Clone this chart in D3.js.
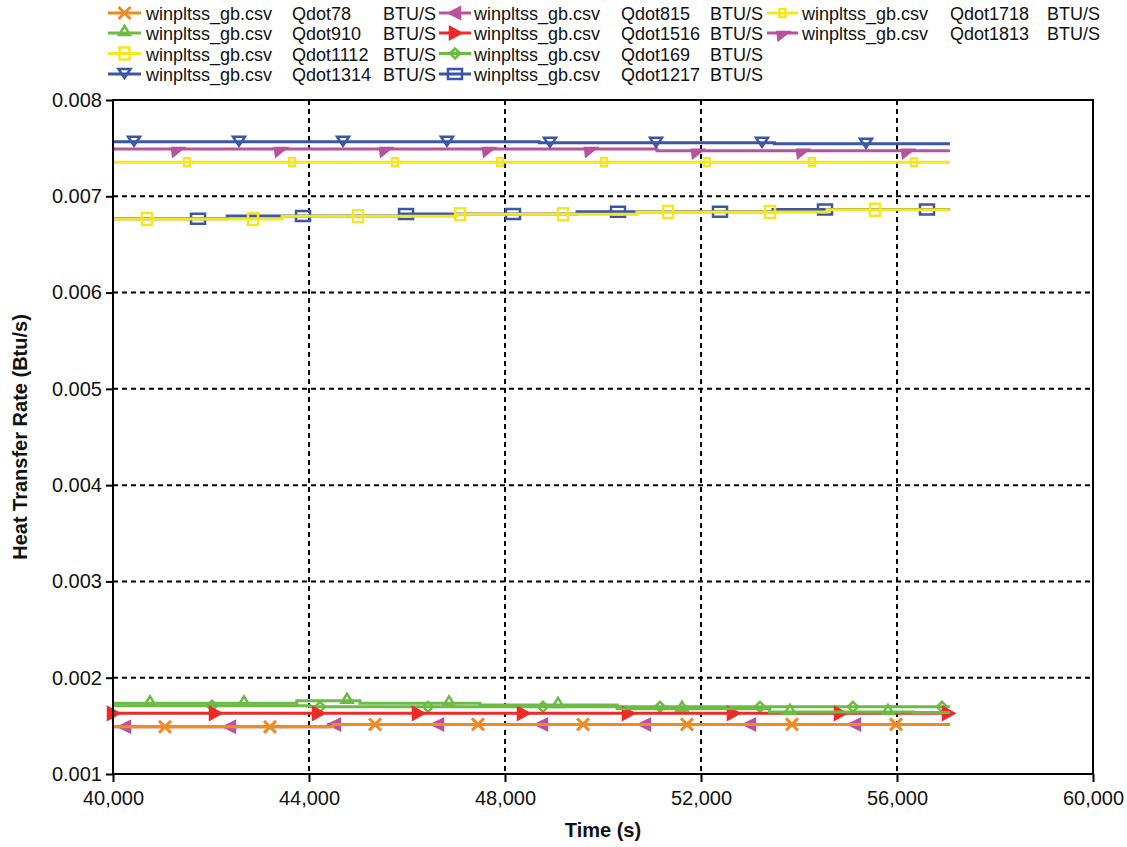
<!DOCTYPE html>
<html><head><meta charset="utf-8">
<script src="https://cdn.jsdelivr.net/npm/d3@7"></script>
<style>body{margin:0;background:#fff} text{font-family:"Liberation Sans",Arial,sans-serif;fill:#111}</style>
</head><body><svg id="c" width="1127" height="847"></svg>
<script>
// ---------- data ----------
const endTime = 57080;
const xTicks = [40000, 44000, 48000, 52000, 56000, 60000];
const yTicks = [0.001, 0.002, 0.003, 0.004, 0.005, 0.006, 0.007, 0.008];

const seriesNames = ["Qdot78","Qdot910","Qdot1112","Qdot1314","Qdot815","Qdot1516","Qdot169","Qdot1217","Qdot1718","Qdot1813"];
const seriesColors = ["#F08A24","#6CBB45","#F4E622","#3A56A5","#B8529E","#EE2A28","#6CBB45","#3A56A5","#F4E622","#B8529E"];
const seriesMarkers = ["x","triUp","square","triDown","triLeft","triRight","diamond","rect","smallSquare","flag"];

// step breakpoints (time, value)
const q78Times = [40000, 44490];            const q78Values = [0.001490, 0.001515];
const q910Times = [40000, 43750, 45040, 47490, 50290, 53400, 56330];
const q910Values = [0.001734, 0.001761, 0.001734, 0.001717, 0.001678, 0.001645, 0.001640];
const q1112Times = [40000, 43450, 47020, 50690, 54570];
const q1112Values = [0.006764, 0.006792, 0.006813, 0.006838, 0.006860];
const q1314Times = [40000, 48700, 53500];   const q1314Values = [0.007567, 0.007555, 0.007545];
const q815Times = [40000, 44400];           const q815Values = [0.001490, 0.001515];
const q1516Times = [40000];                 const q1516Values = [0.001630];
const q169Times = [40000, 44020];           const q169Values = [0.001709, 0.001698];
const q1217Times = [40000, 42330, 45860, 49470, 53470];
const q1217Values = [0.006766, 0.006795, 0.006815, 0.006840, 0.006862];
const q1718Times = [40000];                 const q1718Values = [0.007353];
const q1813Times = [40000, 51100];          const q1813Values = [0.007490, 0.007474];

// marker times
const q78Marks = [41061, 43204, 45347, 47449, 49592, 51714, 53857, 55980];
const q910Marks = [40755, 42673, 44775, 46857, 49082, 51612, 53816, 55816];
const q1112Marks = [40694, 42857, 45000, 47082, 49184, 51327, 53408, 55551];
const q1314Marks = [40429, 42571, 44694, 46816, 48918, 51082, 53245, 55367];
const q815Marks = [40245, 42388, 44531, 46633, 48755, 50857, 53000, 55143];
const q1516Marks = [40000, 42082, 44184, 46224, 48367, 50510, 52653, 54837, 57041];
const q169Marks = [42020, 44224, 46429, 48775, 51163, 53204, 55102, 56918];
const q1217Marks = [41735, 43878, 45980, 48163, 50306, 52388, 54531, 56612];
const q1718Marks = [41510, 43653, 45755, 47898, 50020, 52122, 54265, 56347];
const q1813Marks = [41306, 43408, 45551, 47653, 49735, 51918, 54061, 56204];

const allTimes = [q78Times,q910Times,q1112Times,q1314Times,q815Times,q1516Times,q169Times,q1217Times,q1718Times,q1813Times];
const allValues = [q78Values,q910Values,q1112Values,q1314Values,q815Values,q1516Values,q169Values,q1217Values,q1718Values,q1813Values];
const allMarks = [q78Marks,q910Marks,q1112Marks,q1314Marks,q815Marks,q1516Marks,q169Marks,q1217Marks,q1718Marks,q1813Marks];

// ---------- chart ----------
const svg = d3.select("#c");
const L = 113, R = 1093, T = 100, B = 774;
const x = d3.scaleLinear().domain([40000, 60000]).range([L, R]);
const y = d3.scaleLinear().domain([0.001, 0.008]).range([B, T]);

// grid
const grid = svg.append("g").attr("stroke", "#000").attr("stroke-width", 2).attr("stroke-dasharray", "5,4");
grid.selectAll("line.v").data(xTicks.slice(1, -1)).join("line")
  .attr("x1", d => x(d)).attr("x2", d => x(d)).attr("y1", T).attr("y2", B);
grid.selectAll("line.h").data(yTicks.slice(1, -1)).join("line")
  .attr("x1", L).attr("x2", R).attr("y1", d => y(d)).attr("y2", d => y(d));

// series
function valueAt(ts, vs, t) { return vs[Math.max(0, d3.bisectRight(ts, t) - 1)]; }
function markerPath(type) {
  switch (type) {
    case "x": return "M-6,-6L6,6M-6,6L6,-6";
    case "triUp": return "M0,-7L5.5,2L-5.5,2Z";
    case "square": return "M-5,-6H5V6H-5Z";
    case "triDown": return "M-6,-5H6L0,4Z";
    case "triLeft": return "M-6,0L5,-5.5V5.5Z";
    case "triRight": return "M6,0L-5,-6V6Z";
    case "diamond": return "M0,-5L5,0L0,5L-5,0Z";
    case "rect": return "M-7,-5H7V5H-7Z";
    case "smallSquare": return "M-3,-4H3V4H-3Z";
    case "flag": return "M-5,-1H6L-4,7Z";
  }
}
const filled = {triLeft: true, triRight: true, flag: true};
function drawMarker(g, type, cx, cy, color) {
  g.append("path").attr("d", markerPath(type)).attr("transform", `translate(${cx},${cy})`)
    .attr("fill", filled[type] ? color : "none").attr("stroke", color)
    .attr("stroke-width", type === "x" ? 3 : 2.5).attr("stroke-linejoin", "miter");
}

const line = d3.line().x(d => x(d[0])).y(d => y(d[1])).curve(d3.curveStepAfter);
const plot = svg.append("g");
const order = d3.range(seriesNames.length).reverse();
order.forEach(i => {
  const pts = allTimes[i].map((t, k) => [t, allValues[i][k]]);
  pts.push([endTime, allValues[i][allValues[i].length - 1]]);
  const g = plot.append("g");
  g.append("path").datum(pts).attr("d", line).attr("fill", "none")
    .attr("stroke", seriesColors[i]).attr("stroke-width", 3);
  allMarks[i].forEach(t => drawMarker(g, seriesMarkers[i], x(t), y(valueAt(allTimes[i], allValues[i], t)), seriesColors[i]));
});

// frame & axes
svg.append("rect").attr("x", L).attr("y", T).attr("width", R - L).attr("height", B - T)
  .attr("fill", "none").attr("stroke", "#000").attr("stroke-width", 2);
const xAxis = svg.append("g").attr("transform", `translate(0,${B})`)
  .call(d3.axisBottom(x).tickValues(xTicks).tickFormat(d3.format(",")).tickSize(8).tickPadding(9));
const yAxis = svg.append("g").attr("transform", `translate(${L},0)`)
  .call(d3.axisLeft(y).tickValues(yTicks).tickFormat(d3.format(".3f")).tickSize(7).tickPadding(4));
[xAxis, yAxis].forEach(a => {
  a.select(".domain").remove();
  a.selectAll(".tick line").attr("stroke", "#000").attr("stroke-width", 2);
  a.selectAll(".tick text").attr("font-size", 20).attr("fill", "#111")
    .attr("font-family", '"Liberation Sans",Arial,sans-serif');
});

svg.append("text").attr("x", (L + R) / 2).attr("y", 837).attr("text-anchor", "middle")
  .attr("font-size", 20).attr("font-weight", "bold").text("Time (s)");
svg.append("text").attr("transform", `translate(27,${(T + B) / 2}) rotate(-90)`).attr("text-anchor", "middle")
  .attr("font-size", 20).attr("font-weight", "bold").text("Heat Transfer Rate (Btu/s)");

// legend
const legCols = [
  {l0: 108, l1: 141, nx: 146, qx: 292, bx: 383},
  {l0: 439, l1: 471, nx: 474, qx: 621, bx: 710},
  {l0: 767, l1: 798, nx: 802, qx: 950, bx: 1047}
];
const legRows = [13, 33, 53.5, 74];
const leg = svg.append("g");
seriesNames.forEach((name, i) => {
  const c = legCols[Math.floor(i / 4)], ry = legRows[i % 4];
  leg.append("line").attr("x1", c.l0).attr("x2", c.l1).attr("y1", ry).attr("y2", ry)
    .attr("stroke", seriesColors[i]).attr("stroke-width", 3);
  drawMarker(leg, seriesMarkers[i], (c.l0 + c.l1) / 2, ry, seriesColors[i]);
  const ty = ry + 7;
  leg.append("text").attr("x", c.nx).attr("y", ty).attr("font-size", 18).text("winpltss_gb.csv");
  leg.append("text").attr("x", c.qx).attr("y", ty).attr("font-size", 18).text(name);
  leg.append("text").attr("x", c.bx).attr("y", ty).attr("font-size", 18).text("BTU/S");
});
</script></body></html>
